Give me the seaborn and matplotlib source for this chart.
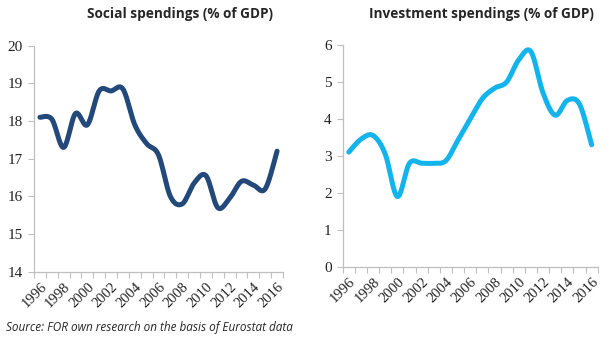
import numpy as np
import pandas as pd
import matplotlib
matplotlib.use("Agg")
import matplotlib.pyplot as plt
import seaborn as sns

years = list(range(1996, 2017))
social = [18.1, 18.05, 17.3, 18.2, 17.9, 18.8, 18.8, 18.85, 17.9, 17.4,
          17.1, 16.0, 15.8, 16.35, 16.55, 15.7, 15.95, 16.4, 16.3, 16.2, 17.2]
investment = [3.1, 3.45, 3.55, 3.05, 1.9, 2.8, 2.8, 2.8, 2.87, 3.43,
              4.0, 4.55, 4.83, 5.0, 5.6, 5.82, 4.7, 4.1, 4.5, 4.4, 3.3]
tick_labels = [str(y) for y in years[::2]]

titles = ["Social spendings (% of GDP)", "Investment spendings (% of GDP)"]
source_note = "Source: FOR own research on the basis of Eurostat data"


def smooth_curve(values, steps=30):
    """Catmull-Rom style smoothed path through the category points."""
    v = np.asarray(values, dtype=float)
    x = np.arange(len(v), dtype=float)
    px = np.concatenate([[x[0]], x, [x[-1]]])
    pv = np.concatenate([[v[0]], v, [v[-1]]])
    xs, ys = [], []
    for i in range(1, len(px) - 2):
        p0x, p1x, p2x, p3x = px[i - 1], px[i], px[i + 1], px[i + 2]
        p0, p1, p2, p3 = pv[i - 1], pv[i], pv[i + 1], pv[i + 2]
        c1x, c1 = p1x + (p2x - p0x) / 6, p1 + (p2 - p0) / 6
        c2x, c2 = p2x - (p3x - p1x) / 6, p2 - (p3 - p1) / 6
        t = np.linspace(0, 1, steps, endpoint=False)
        b0, b1, b2, b3 = (1 - t) ** 3, 3 * t * (1 - t) ** 2, 3 * t ** 2 * (1 - t), t ** 3
        xs.append(b0 * p1x + b1 * c1x + b2 * c2x + b3 * p2x)
        ys.append(b0 * p1 + b1 * c1 + b2 * c2 + b3 * p2)
    xs.append([x[-1]])
    ys.append([v[-1]])
    return pd.DataFrame({"pos": np.concatenate(xs), "val": np.concatenate(ys)})


sns.set_theme(style="white")
plt.rcParams["font.family"] = ["Liberation Serif", "DejaVu Serif"]

fig = plt.figure(figsize=(6.13, 3.40), dpi=100)
W, H = 613, 340
ax1 = fig.add_axes([34 / W, 1 - 271.7 / H, (283 - 34) / W, (271.7 - 45.7) / H])
ax2 = fig.add_axes([342.7 / W, 1 - 266.7 / H, (597.7 - 342.7) / W, (266.7 - 45) / H])

axis_grey = "#BFBFBF"
specs = [
    (ax1, social, "#22497A", (14, 20), 1),
    (ax2, investment, "#13B3EB", (0, 6), 1),
]

for (ax, vals, color, ylim, step), title in zip(specs, titles):
    curve = smooth_curve(vals)
    sns.lineplot(data=curve, x="pos", y="val", ax=ax, color=color,
                 linewidth=3.6, sort=False, solid_capstyle="round")
    ax.set_xlim(-0.5, len(years) - 0.5)
    ax.set_ylim(*ylim)
    ax.set_xlabel("")
    ax.set_ylabel("")
    ax.set_yticks(np.arange(ylim[0], ylim[1] + step, step))
    ax.set_xticks(np.arange(0, len(years), 2))
    ax.set_xticklabels(tick_labels, rotation=45, ha="right",
                       rotation_mode="anchor", fontsize=10.5, color="#222222")
    ax.set_xticks(np.arange(-0.5, len(years), 1), minor=True)
    ax.tick_params(axis="x", which="major", length=0, pad=6)
    ax.tick_params(axis="x", which="minor", length=4, width=0.8,
                   color=axis_grey, direction="out", bottom=True)
    ax.tick_params(axis="y", length=4, width=0.8, color=axis_grey,
                   direction="out", left=True, labelsize=11,
                   labelcolor="#222222", pad=4)
    for side in ("top", "right"):
        ax.spines[side].set_visible(False)
    for side in ("left", "bottom"):
        ax.spines[side].set_color(axis_grey)
        ax.spines[side].set_linewidth(0.9)
    ax.patch.set_alpha(0)

fig.text(180 / W, 1 - 14 / H, titles[0], ha="center", va="center",
         fontsize=9.8, fontweight="bold", family=["Open Sans", "DejaVu Sans"])
fig.text(481 / W, 1 - 14 / H, titles[1], ha="center", va="center",
         fontsize=9.8, fontweight="bold", family=["Open Sans", "DejaVu Sans"])
fig.text(6 / W, 1 - 327 / H, source_note, ha="left", va="center",
         fontsize=8.5, style="italic", family=["Open Sans", "DejaVu Sans"])

fig.savefig("out.png", dpi=100, facecolor="white")
